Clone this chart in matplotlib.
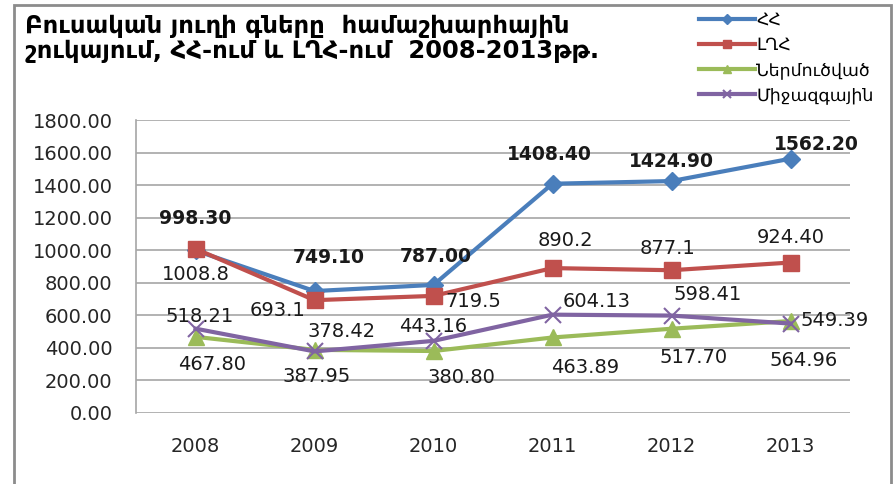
import matplotlib
matplotlib.use('Agg')
import matplotlib.pyplot as plt
from matplotlib.patches import Rectangle

years = ['2008', '2009', '2010', '2011', '2012', '2013']
hh = [998.30, 749.10, 787.00, 1408.40, 1424.90, 1562.20]
lgh = [1008.8, 693.1, 719.5, 890.2, 877.1, 924.40]
nermucvac = [467.80, 387.95, 380.80, 463.89, 517.70, 564.96]
mijazgayin = [518.21, 378.42, 443.16, 604.13, 598.41, 549.39]

hh_labels = ['998.30', '749.10', '787.00', '1408.40', '1424.90', '1562.20']
lgh_labels = ['1008.8', '693.1', '719.5', '890.2', '877.1', '924.40']
nerm_labels = ['467.80', '387.95', '380.80', '463.89', '517.70', '564.96']
mij_labels = ['518.21', '378.42', '443.16', '604.13', '598.41', '549.39']

series_names = ['ՀՀ', 'ԼՂՀ', 'Ներմուծված', 'Միջազգային']

plt.rcParams['font.family'] = ['DejaVu Sans']

fig = plt.figure(figsize=(8.96, 4.84), dpi=100)
ax = fig.add_axes([136/896, 71/484, 714/896, 293/484])

x = list(range(len(years)))
ax.plot(x, hh, color='#4A7EBB', lw=3, marker='D', ms=9, label=series_names[0], zorder=3)
ax.plot(x, lgh, color='#C0504D', lw=3, marker='s', ms=11, label=series_names[1], zorder=4)
ax.plot(x, nermucvac, color='#9BBB59', lw=3, marker='^', ms=11, label=series_names[2], zorder=3)
ax.plot(x, mijazgayin, color='#8064A2', lw=3, marker='x', ms=11, mew=1.5, label=series_names[3], zorder=4)

# label offsets in pixels (dx, dy)
off_hh = [(0, 32), (14, 34), (2, 28), (-3, 29), (0, 20), (26, 14)]
off_lgh = [(0, -26), (-37, -10), (40, -6), (13, 28), (-4, 22), (0, 25)]
off_nerm = [(17, -28), (2, -27), (28, -26), (33, -30), (22, -29), (13, -39)]
off_mij = [(4, 12), (27, 20), (0, 14), (44, 13), (36, 21), (44, 3)]

for vals, labs, offs, bold in [(hh, hh_labels, off_hh, True),
                               (lgh, lgh_labels, off_lgh, False),
                               (nermucvac, nerm_labels, off_nerm, False),
                               (mijazgayin, mij_labels, off_mij, False)]:
    for i, (v, t) in enumerate(zip(vals, labs)):
        ax.annotate(t, (i, v), xytext=offs[i], textcoords='offset pixels',
                    ha='center', va='center', fontsize=13.5 if bold else 14,
                    fontweight='bold' if bold else 'normal', color='#1a1a1a', zorder=6)

ax.set_xlim(-0.5, 5.5)
ax.set_ylim(0, 1800)
ax.set_yticks(range(0, 1801, 200))
ax.set_yticklabels([f'{v:.2f}' for v in range(0, 1801, 200)])
ax.set_xticks(x)
ax.set_xticklabels(years)
ax.tick_params(axis='both', length=0, labelsize=14, labelcolor='#262626')
ax.tick_params(axis='y', pad=17)
ax.tick_params(axis='x', pad=17)
ax.grid(axis='y', color='#a6a6a6', lw=1.2)
ax.set_axisbelow(True)
for s in ['top', 'right', 'bottom']:
    ax.spines[s].set_visible(False)
ax.spines['left'].set_color('#a6a6a6')
ax.spines['left'].set_linewidth(1.2)

fig.text(25/896, 1 - 14/484,
         'Բուսական յուղի գները  համաշխարհային\nշուկայում, ՀՀ-ում և ԼՂՀ-ում  2008-2013թթ.',
         ha='left', va='top', fontsize=17.5, fontweight='bold', linespacing=1.05)

fig.legend(loc='upper left', bbox_to_anchor=(692/896, 1 - 4/484), frameon=False,
           fontsize=12.5, handlelength=3.2, handletextpad=0.1, labelspacing=0.4,
           markerscale=0.55, borderaxespad=0)

fig.patches.append(Rectangle((14/896, -0.05), 877/896, 1.05 - 5/484, transform=fig.transFigure,
                             fill=False, edgecolor='#8c8c8c', lw=2))

fig.savefig('out.png', dpi=100)
